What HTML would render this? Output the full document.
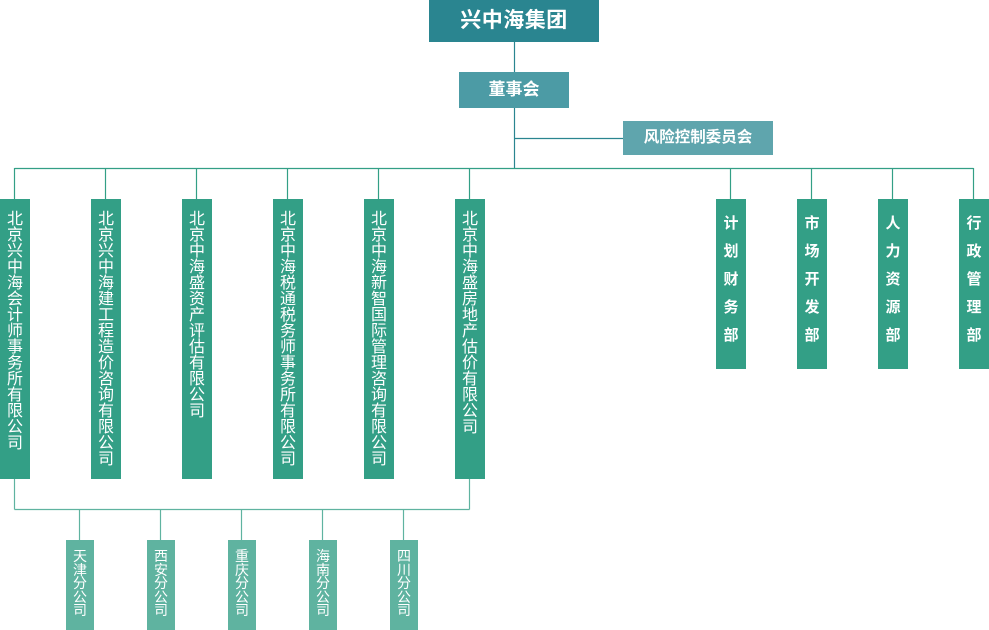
<!DOCTYPE html>
<html><head><meta charset="utf-8"><style>
html,body{margin:0;padding:0;background:#fff;}
body{width:989px;height:630px;position:relative;overflow:hidden;font-family:"Liberation Sans","Noto Sans CJK SC","WenQuanYi Zen Hei",sans-serif;}
.b{position:absolute;color:#fff;text-align:center;box-sizing:border-box;}
.top{left:429px;top:0;width:170px;height:42px;background:#2a8590;font-size:21px;font-weight:bold;line-height:42px;letter-spacing:0.5px;}
.dsh{left:459px;top:72px;width:110px;height:36px;background:#4c9ba5;font-size:17px;font-weight:bold;line-height:36px;}
.fx{left:623px;top:121px;width:150px;height:34px;background:#5fa5ad;font-size:15.5px;font-weight:bold;line-height:34px;}
.co{top:199px;width:30px;height:280px;background:#339f86;font-size:16px;line-height:16px;padding-top:13px;}
.co span,.dp span,.br span{display:block;width:1em;margin:0 auto;word-break:break-all;}
.dp{top:199px;width:30px;height:170px;background:#339f86;font-size:15px;font-weight:bold;line-height:28px;padding-top:11px;}
.br{top:540px;width:28px;height:90px;background:#5fb3a0;font-size:14px;line-height:13.6px;padding-top:10px;}
svg{position:absolute;left:0;top:0;}
</style></head><body>
<svg width="989" height="630" viewBox="0 0 989 630">
<g stroke="#2a8590" stroke-width="1.2" fill="none">
<line x1="514.5" y1="42" x2="514.5" y2="72"/>
<line x1="514.5" y1="108" x2="514.5" y2="168"/>
<line x1="514.5" y1="138.5" x2="623" y2="138.5"/>
</g>
<g stroke="#339f86" stroke-width="1.2" fill="none">
<line x1="14.5" y1="168.5" x2="973.5" y2="168.5"/>
<line x1="14.5" y1="168" x2="14.5" y2="199"/>
<line x1="105.5" y1="168" x2="105.5" y2="199"/>
<line x1="196.5" y1="168" x2="196.5" y2="199"/>
<line x1="287.5" y1="168" x2="287.5" y2="199"/>
<line x1="378.5" y1="168" x2="378.5" y2="199"/>
<line x1="469.5" y1="168" x2="469.5" y2="199"/>
<line x1="730.5" y1="168" x2="730.5" y2="199"/>
<line x1="811.5" y1="168" x2="811.5" y2="199"/>
<line x1="892.5" y1="168" x2="892.5" y2="199"/>
<line x1="973.5" y1="168" x2="973.5" y2="199"/>
</g>
<g stroke="#5fb3a0" stroke-width="1.2" fill="none">
<line x1="14.5" y1="479" x2="14.5" y2="509.5"/>
<line x1="469.5" y1="479" x2="469.5" y2="509.5"/>
<line x1="14.5" y1="509.5" x2="469.5" y2="509.5"/>
<line x1="79.5" y1="509" x2="79.5" y2="540"/>
<line x1="160.5" y1="509" x2="160.5" y2="540"/>
<line x1="241.5" y1="509" x2="241.5" y2="540"/>
<line x1="322.5" y1="509" x2="322.5" y2="540"/>
<line x1="403.5" y1="509" x2="403.5" y2="540"/>
</g>
</svg>
<div class="b top">兴中海集团</div>
<div class="b dsh">董事会</div>
<div class="b fx">风险控制委员会</div>

<div class="b co" style="left:0px"><span>北京兴中海会计师事务所有限公司</span></div>
<div class="b co" style="left:91px"><span>北京兴中海建工程造价咨询有限公司</span></div>
<div class="b co" style="left:182px"><span>北京中海盛资产评估有限公司</span></div>
<div class="b co" style="left:273px"><span>北京中海税通税务师事务所有限公司</span></div>
<div class="b co" style="left:364px"><span>北京中海新智国际管理咨询有限公司</span></div>
<div class="b co" style="left:455px"><span>北京中海盛房地产估价有限公司</span></div>

<div class="b dp" style="left:716px"><span>计划财务部</span></div>
<div class="b dp" style="left:797px"><span>市场开发部</span></div>
<div class="b dp" style="left:878px"><span>人力资源部</span></div>
<div class="b dp" style="left:959px"><span>行政管理部</span></div>

<div class="b br" style="left:66px"><span>天津分公司</span></div>
<div class="b br" style="left:147px"><span>西安分公司</span></div>
<div class="b br" style="left:228px"><span>重庆分公司</span></div>
<div class="b br" style="left:309px"><span>海南分公司</span></div>
<div class="b br" style="left:390px"><span>四川分公司</span></div>
</body></html>
